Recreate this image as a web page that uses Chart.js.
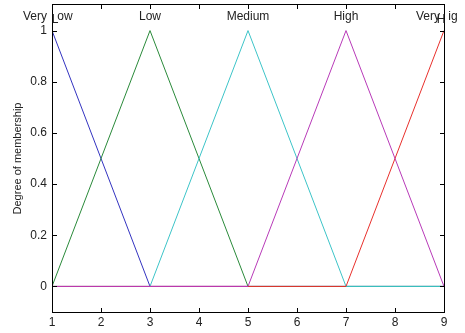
<!DOCTYPE html>
<html>
<head>
<meta charset="utf-8">
<script src="https://cdn.jsdelivr.net/npm/chart.js@4.4.0/dist/chart.umd.min.js"></script>
<style>
  html, body { margin: 0; padding: 0; background: #fff; }
  #wrap { width: 465px; height: 333px; }
</style>
</head>
<body>
<div id="wrap"><canvas id="mfChart" width="465" height="333"></canvas></div>
<script>
// membership functions, x breakpoints and y values
const xPoints = [1, 3, 5, 7, 9];
const veryLow  = [1, 0, 0, 0, 0];
const low      = [0, 1, 0, 0, 0];
const medium   = [0, 0, 1, 0, 0];
const high     = [0, 0, 0, 1, 0];
const veryHigh = [0, 0, 0, 0, 1];
const xTicks = [1, 2, 3, 4, 5, 6, 7, 8, 9];
const yTicks = [0, 0.2, 0.4, 0.6, 0.8, 1];

function pts(vals) {
    return xPoints.map((x, i) => ({ x: x, y: vals[i] }));
}

// MF names written above each peak (MATLAB style, partly clipped)
const mfLabels = [
    { parts: [{ t: 'Very', x: 1, dx: -17, dy: 0 }, { t: 'L', x: 1, dx: 3, dy: 3 }, { t: 'ow', x: 1, dx: 13, dy: 0 }] },
    { parts: [{ t: 'Low', x: 3, dx: 0, dy: 0 }] },
    { parts: [{ t: 'Medium', x: 5, dx: 0, dy: 0 }] },
    { parts: [{ t: 'High', x: 7, dx: 0, dy: 0 }] },
    { parts: [{ t: 'Very', x: 9, dx: -16, dy: 0 }, { t: 'H', x: 9, dx: -3, dy: 3 }, { t: 'ig', x: 9, dx: 9, dy: 0 }] }
];

const boxPlugin = {
    id: 'boxPlugin',
    afterDraw(chart) {
        const ctx = chart.ctx;
        const a = chart.chartArea;
        const xs = chart.scales.x, ys = chart.scales.y;
        const L = Math.round(a.left), R = Math.round(a.right);
        const T = Math.round(a.top) - 1, B = Math.round(a.bottom);
        ctx.save();
        ctx.fillStyle = '#000';
        // box
        ctx.fillRect(L, T, R - L + 1, 1);
        ctx.fillRect(L, B, R - L + 1, 1);
        ctx.fillRect(L, T, 1, B - T + 1);
        ctx.fillRect(R, T, 1, B - T + 1);
        // inward tick marks on all four sides
        xTicks.forEach(v => {
            const px = Math.round(xs.getPixelForValue(v));
            ctx.fillRect(px, B - 4, 1, 4);
            ctx.fillRect(px, T + 1, 1, 4);
        });
        yTicks.forEach(v => {
            const py = Math.round(ys.getPixelForValue(v));
            ctx.fillRect(L + 1, py, 4, 1);
            ctx.fillRect(R - 4, py, 4, 1);
        });

        ctx.fillStyle = '#222';
        ctx.font = '12px "Liberation Sans", Arial, sans-serif';
        ctx.textAlign = 'center';
        ctx.textBaseline = 'alphabetic';
        mfLabels.forEach(lb => {
            lb.parts.forEach(p => {
                ctx.fillText(p.t, xs.getPixelForValue(p.x) + p.dx, 20 + p.dy);
            });
        });
        ctx.restore();
    }
};

const ctx = document.getElementById('mfChart').getContext('2d');
new Chart(ctx, {
    type: 'line',
    data: {
        datasets: [
            { label: 'Very low',  data: pts(veryLow),  borderColor: '#3333c0', order: 4 },
            { label: 'Low',       data: pts(low),      borderColor: '#2a8a3a', order: 3 },
            { label: 'Medium',    data: pts(medium),   borderColor: '#3cc4c8', order: 2 },
            { label: 'Very high', data: pts(veryHigh), borderColor: '#e8302c', order: 1 },
            { label: 'High',      data: pts(high),     borderColor: '#b83ab8', order: 0 }
        ]
    },
    options: {
        responsive: false,
        animation: false,
        events: [],
        elements: {
            line: { borderWidth: 1, tension: 0 },
            point: { radius: 0 }
        },
        layout: { padding: { top: 5, right: 21, left: 0, bottom: 0 } },
        plugins: { legend: { display: false }, tooltip: { enabled: false } },
        scales: {
            x: {
                type: 'linear',
                min: 1, max: 9,
                grid: { display: false, drawTicks: false },
                border: { display: false },
                afterBuildTicks: s => { s.ticks = xTicks.map(v => ({ value: v })); },
                afterFit: s => { s.height = 21; s.paddingLeft = 0; s.paddingRight = 0; },
                ticks: {
                    color: '#222',
                    padding: 3,
                    maxRotation: 0,
                    font: { family: '"Liberation Sans", Arial, sans-serif', size: 12 }
                }
            },
            y: {
                min: -0.1, max: 1.1,
                grid: { display: false, drawTicks: false },
                border: { display: false },
                afterBuildTicks: s => { s.ticks = yTicks.map(v => ({ value: v })); },
                afterFit: s => { s.width = 52; s.paddingTop = 0; s.paddingBottom = 0; },
                title: {
                    display: true,
                    text: 'Degree of membership',
                    color: '#222',
                    padding: { top: 11, bottom: 0 },
                    font: { family: '"Liberation Sans", Arial, sans-serif', size: 11 }
                },
                ticks: {
                    color: '#222',
                    padding: 5,
                    callback: v => String(v),
                    font: { family: '"Liberation Sans", Arial, sans-serif', size: 12 }
                }
            }
        }
    },
    plugins: [boxPlugin]
});
</script>
</body>
</html>
